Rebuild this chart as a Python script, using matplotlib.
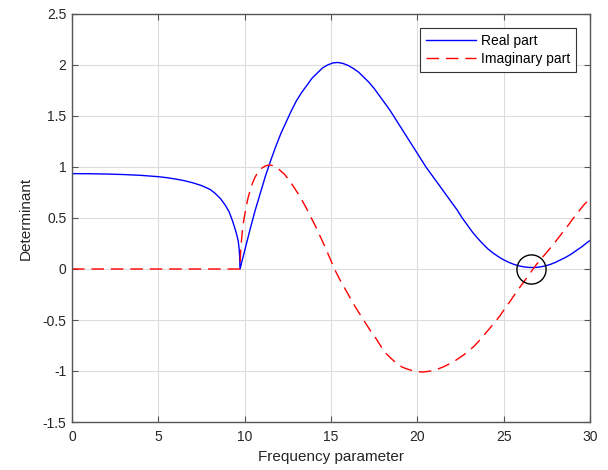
import matplotlib
matplotlib.use("Agg")
import matplotlib.pyplot as plt

plt.rcParams['font.family'] = ['Liberation Sans', 'DejaVu Sans']

# real part of the determinant
re_x = [0, 1, 2, 3, 4, 5, 5.5, 6, 6.5, 7, 7.5, 8, 8.3, 8.6, 8.9, 9.1, 9.3, 9.45,
        9.55, 9.63, 9.68, 9.71, 9.73,
        10.0, 10.3, 10.6, 10.9, 11.2, 11.5, 11.8, 12.1, 12.4, 12.7, 13.0, 13.3, 13.6,
        13.9, 14.2, 14.5, 14.8, 15.1, 15.4, 15.7, 16.0, 16.3, 16.6, 16.9, 17.2, 17.5,
        17.8, 18.1, 18.4, 18.7, 19.0, 19.3, 19.6, 19.9, 20.2, 20.5, 20.8, 21.1, 21.4,
        21.7, 22.0, 22.3, 22.6, 22.9, 23.2, 23.5, 23.8, 24.1, 24.4, 24.7, 25.0, 25.3,
        25.6, 25.9, 26.2, 26.5, 26.8, 27.1, 27.4, 27.7, 28.0, 28.3, 28.6, 28.9, 29.2,
        29.5, 29.8, 30]
re_y = [0.935, 0.934, 0.931, 0.926, 0.918, 0.905, 0.895, 0.882, 0.866, 0.845, 0.818,
        0.78, 0.74, 0.69, 0.62, 0.56, 0.47, 0.39, 0.33, 0.27, 0.20, 0.12, 0.0,
        0.18, 0.38, 0.57, 0.74, 0.91, 1.06, 1.20, 1.33, 1.44, 1.55, 1.65, 1.73, 1.80,
        1.87, 1.92, 1.97, 2.0, 2.02, 2.025, 2.015, 1.995, 1.965, 1.93, 1.88, 1.83, 1.77,
        1.70, 1.63, 1.56, 1.48, 1.40, 1.32, 1.24, 1.16, 1.08, 1.00, 0.93, 0.86, 0.79,
        0.72, 0.65, 0.58, 0.50, 0.43, 0.36, 0.30, 0.245, 0.195, 0.155, 0.12, 0.09, 0.065,
        0.045, 0.03, 0.02, 0.015, 0.015, 0.02, 0.03, 0.045, 0.065, 0.09, 0.115, 0.145, 0.18,
        0.215, 0.255, 0.28]

# imaginary part of the determinant
im_x = [0, 9.73, 9.76, 9.8, 9.86, 9.92, 10.0, 10.1, 10.2, 10.3, 10.45, 10.6, 10.8,
        11.0, 11.2, 11.4, 11.6, 11.8, 12.0, 12.3, 12.6, 12.9, 13.2, 13.5, 13.8, 14.1,
        14.4, 14.7, 15.0, 15.2, 15.5, 15.8, 16.1, 16.4, 16.7, 17.0, 17.3, 17.6, 17.9,
        18.2, 18.5, 18.8, 19.1, 19.4, 19.7, 20.0, 20.3, 20.6, 20.9, 21.2, 21.5, 21.8,
        22.1, 22.4, 22.7, 23.0, 23.3, 23.6, 23.9, 24.2, 24.5, 24.8, 25.1, 25.4, 25.7,
        26.0, 26.3, 26.6, 26.9, 27.2, 27.5, 27.8, 28.1, 28.4, 28.7, 29.0, 29.3, 29.6, 30]
im_y = [0, 0, 0.15, 0.25, 0.36, 0.45, 0.53, 0.62, 0.70, 0.76, 0.84, 0.90, 0.955,
        0.99, 1.01, 1.02, 1.015, 1.0, 0.975, 0.93, 0.865, 0.79, 0.71, 0.62, 0.52, 0.42,
        0.31, 0.20, 0.08, 0.0, -0.10, -0.19, -0.28, -0.37, -0.45, -0.53, -0.61, -0.68,
        -0.76, -0.83, -0.88, -0.925, -0.96, -0.98, -0.995, -1.005, -1.01, -1.005, -0.995,
        -0.98, -0.96, -0.935, -0.91, -0.875, -0.84, -0.80, -0.755, -0.70, -0.64, -0.58,
        -0.52, -0.455, -0.38, -0.31, -0.235, -0.165, -0.095, -0.025, 0.045, 0.105, 0.165,
        0.225, 0.29, 0.355, 0.42, 0.49, 0.555, 0.62, 0.69]

# marked root
root_x = [26.6]
root_y = [0.0]

fig = plt.figure(figsize=(6.08, 4.70), dpi=100)
ax = fig.add_axes([72/608, 48/470, 518/608, 408/470])

ax.plot(re_x, re_y, color='b', lw=1.0, label='Real part')
ax.plot(im_x, im_y, color='r', lw=1.0, dashes=(9, 5), label='Imaginary part')
ax.plot(root_x, root_y, 'o', mfc='none', mec='k', ms=21, mew=1.0)

ax.set_xlim(0, 30)
ax.set_ylim(-1.5, 2.5)
ax.set_xticks([0, 5, 10, 15, 20, 25, 30])
ax.set_yticks([-1.5, -1, -0.5, 0, 0.5, 1, 1.5, 2, 2.5])
ax.set_yticklabels(['-1.5', '-1', '-0.5', '0', '0.5', '1', '1.5', '2', '2.5'])
ax.grid(True, color='#dcdcdc', lw=0.8)
ax.set_axisbelow(True)
for s in ax.spines.values():
    s.set_color('#555555')
    s.set_linewidth(1.0)
ax.tick_params(direction='in', length=4, width=0.8, colors='#555555',
               labelcolor='#262626', labelsize=10, top=True, right=True)
ax.tick_params(axis='x', pad=6)
ax.tick_params(axis='y', pad=4)

ax.set_xlabel('Frequency parameter', fontsize=11, color='#262626', labelpad=4)
ax.set_ylabel('Determinant', fontsize=11, color='#262626', labelpad=7)

leg = ax.legend(loc='upper right', fontsize=10, handlelength=3.6, fancybox=False,
                framealpha=1, edgecolor='#333333', borderaxespad=1.0,
                borderpad=0.45, labelspacing=0.25, handletextpad=0.3)
leg.get_frame().set_linewidth(0.8)

fig.savefig('out.png', dpi=100)
